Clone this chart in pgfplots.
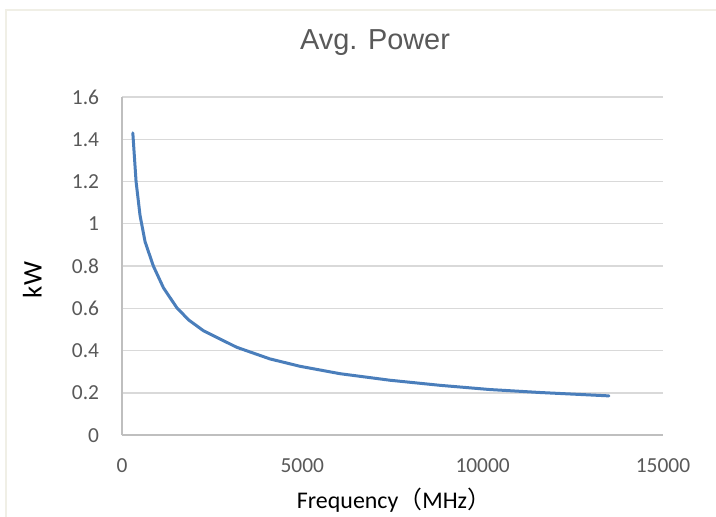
\documentclass[border=0pt]{standalone}
\usepackage{pgfplots}
\pgfplotsset{compat=1.18}
\usepackage{fontspec}
\setmainfont{Carlito}
\newfontfamily\arialf{Liberation Sans}
\newfontfamily\cjk{Noto Sans CJK SC}
\definecolor{tickgray}{RGB}{89,89,89}
\definecolor{axisgray}{RGB}{191,191,191}
\definecolor{gridgray}{RGB}{217,217,217}
\definecolor{lineblue}{RGB}{74,126,187}
\definecolor{framecol}{RGB}{240,239,230}
\begin{document}
\begin{tikzpicture}
\useasboundingbox (0,0) rectangle (716bp,517bp);
\fill[white] (0,0) rectangle (716bp,517bp);
\draw[framecol, line width=2bp] (6bp,0) -- (6bp,507bp) -- (716bp,507bp);
\begin{axis}[
  at={(122bp,81.8bp)}, anchor=south west,
  width=541bp, height=338.2bp, scale only axis,
  xmin=0, xmax=15000, ymin=0, ymax=1.6,
  xtick={0,5000,10000,15000},
  ytick={0,0.2,0.4,0.6,0.8,1,1.2,1.4,1.6},
  scaled x ticks=false, scaled y ticks=false,
  /pgf/number format/1000 sep={},
  /pgf/number format/assume math mode=true,
  axis x line=bottom, axis y line=left,
  axis line style={-, draw=axisgray, line width=1.6bp},
  major tick length=0pt,
  ymajorgrids,
  grid style={gridgray, line width=1.3bp},
  ticklabel style={font=\fontsize{21.5}{24}\selectfont, text=tickgray, inner sep=0pt},
  yticklabel style={anchor=east, xshift=-22.7bp},
  xticklabel style={anchor=north, yshift=-23bp},
  clip=false,
]
\addplot[lineblue, line width=3bp, line join=round, line cap=round] coordinates {
(300,1.43) (390,1.20) (500,1.04) (640,0.915) (870,0.80) (1150,0.697)
(1520,0.603) (1850,0.545) (2260,0.494) (3180,0.416) (4100,0.361) (4935,0.326)
(6044,0.291) (7430,0.260) (8816,0.236) (10200,0.216) (11590,0.202) (13500,0.186)
};
\end{axis}
\node[anchor=base, text=tickgray, font=\arialf\fontsize{29}{34}\selectfont] at (375bp,467bp) {Avg. Power};
\node[anchor=base, inner sep=0pt, font=\fontsize{24}{28}\selectfont] at (394bp,8.7bp) {Frequency{\cjk（}MHz{\cjk）}};
\node[anchor=base, rotate=90, inner sep=0pt, font=\fontsize{27}{30}\selectfont] at (41.7bp,237bp) {kW};
\end{tikzpicture}
\end{document}
